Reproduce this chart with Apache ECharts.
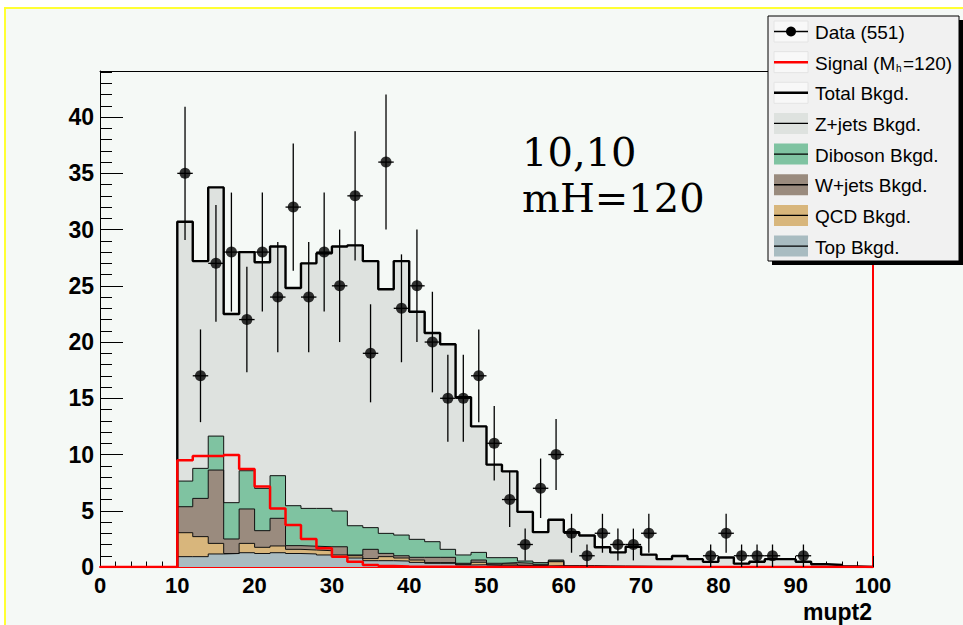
<!DOCTYPE html>
<html>
<head>
<meta charset="utf-8">
<title>mupt2</title>
<script src="https://cdn.jsdelivr.net/npm/echarts@6/dist/echarts.min.js"></script>
<style>
    html, body { margin: 0; padding: 0; background: #fff; }
    #chart { width: 963px; height: 625px; }
</style>
</head>
<body>
<div id="chart"></div>
<script>
    // histogram bins: width 2, from 10 to 100 (45 bins)
    var binLow = 10;
    var binWidth = 2;

    // observed events per bin (551 in total)
    var dataCounts = [35, 17, 27, 28, 22, 28, 24, 32, 24, 28, 25, 33, 19, 36, 23, 25, 20, 15, 15, 17,
        11, 6, 2, 7, 10, 3, 1, 3, 2, 2, 3, 0, 0, 0, 1, 3, 1, 1, 1, 0, 1, 0, 0, 0, 0];

    // signal, M_h = 120 (drawn unstacked)
    var signal = [9.50, 9.87, 9.87, 9.96, 8.72, 7.16, 5.21, 3.73, 2.49, 1.66, 0.92, 0.47, 0.18, 0.10, 0.05,
        0.03, 0.02, 0.02, 0.01, 0.01, 0.01, 0.01, 0, 0, 0, 0, 0, 0, 0, 0, 0, 0, 0, 0, 0, 0, 0, 0, 0, 0, 0, 0, 0, 0, 0];

    // backgrounds, bottom of the stack first
    var topBkg = [0.92, 0.92, 1.16, 1.20, 1.27, 1.20, 1.27, 1.20, 1.16, 1.07, 0.92, 0.80, 0.56, 0.56, 0.53,
        0.41, 0.33, 0.33, 0.18, 0.20, 0.15, 0.15, 0.12, 0.10, 0.12, 0.05, 0.04, 0.03, 0.03, 0.03,
        0.02, 0.02, 0.02, 0.02, 0.01, 0.01, 0.01, 0.01, 0.01, 0.01, 0.01, 0, 0, 0, 0];
    var qcd = [2.13, 1.78, 0.94, 0, 0.83, 0.55, 0.60, 0.37, 0.35, 0.38, 0.15, 0.20, 0.19, 0.36, 0.27,
        0.21, 0.06, 0.06, 0.06, 0.22, 0.03, 0.12, 0.03, 0.02, 0.35, 0.01, 0.01, 0.01, 0.01, 0,
        0.01, 0.01, 0, 0, 0, 0, 0, 0, 0, 0, 0, 0, 0, 0, 0];
    var wjets = [2.31, 3.40, 6.52, 1.29, 3.06, 1.48, 2.46, 0.33, 0.34, 0.35, 0.73, 0.07, 0.82, 0.29, 0.20,
        0.24, 0.47, 0.47, 0.09, 0.20, 0.15, 0.12, 0.18, 0.12, 0.06, 0.02, 0.02, 0.02, 0.01, 0.02,
        0.01, 0.01, 0.01, 0.01, 0.01, 0, 0.01, 0.01, 0.01, 0, 0, 0.01, 0.01, 0, 0];
    var diboson = [2.28, 2.67, 3.02, 3.23, 3.40, 3.76, 3.79, 3.55, 3.36, 3.41, 3.18, 2.60, 1.93, 1.78, 1.84,
        1.60, 1.39, 0.71, 0.74, 0.68, 0.50, 0.44, 0.20, 0.15, 0.09, 0.04, 0.05, 0.04, 0.04, 0.03,
        0.03, 0.02, 0.02, 0.02, 0.01, 0.02, 0.01, 0.01, 0.01, 0.01, 0.01, 0.01, 0, 0.01, 0];
    var zjets = [23.06, 18.43, 22.11, 16.78, 19.44, 20.11, 20.38, 19.35, 21.79, 22.69, 23.52, 24.93, 23.70, 21.71, 24.36,
        20.24, 18.55, 18.23, 14.03, 11.20, 8.27, 7.67, 4.37, 2.71, 3.58, 2.98, 2.68, 1.65, 1.21, 1.72,
        1.03, 0.64, 0.93, 0.65, 0.43, 0.82, 0.27, 0.44, 0.67, 0.68, 0.45, 0.22, 0.17, 0.04, 0];

    var legendNames = ['Data (551)', 'Signal (M', 'Total Bkgd.', 'Z+jets Bkgd.', 'Diboson Bkgd.',
        'W+jets Bkgd.', 'QCD Bkgd.', 'Top Bkgd.'];

    var colors = {
        zjets: '#dee2df',
        diboson: '#7fc3a1',
        wjets: '#9a8b7e',
        qcd: '#d8b67c',
        top: '#a9bcc1'
    };

    var yMax = 44.1;
    var labelFont = 'Liberation Sans, Arial, sans-serif';

    function addArr(a, b) {
        return a.map(function (v, i) { return v + b[i]; });
    }

    // step outline of a histogram: starts on the axis at the first edge, closes at x=100
    function stepData(vals, startX) {
        var pts = [[startX, 0]];
        vals.forEach(function (v, i) {
            pts.push([binLow + binWidth * i, v]);
        });
        pts.push([binLow + binWidth * vals.length, vals[vals.length - 1]]);
        pts.push([binLow + binWidth * vals.length, 0]);
        return pts;
    }

    var cumTop = topBkg.slice();
    var cumQcd = addArr(cumTop, qcd);
    var cumW = addArr(cumQcd, wjets);
    var cumDib = addArr(cumW, diboson);
    var cumTotal = addArr(cumDib, zjets);

    function layer(name, vals, color) {
        return {
            name: name,
            type: 'line',
            step: 'end',
            data: stepData(vals, binLow),
            showSymbol: false,
            silent: true,
            lineStyle: { color: '#111', width: 1 },
            areaStyle: { color: color, opacity: 1 },
            z: 2
        };
    }

    var pointData = [];
    dataCounts.forEach(function (n, i) {
        if (n > 0) {
            pointData.push([binLow + binWidth * i + binWidth / 2, n, Math.sqrt(n)]);
        }
    });

    var chart = echarts.init(document.getElementById('chart'), null, { renderer: 'svg' });

    // legend rows drawn by hand (ROOT style boxes)
    var lgX = 768, lgY = 16, lgW = 191, lgH = 245;
    var rowY0 = 31.5, rowStep = 30.65;
    var symX = 774, symW = 34, symH = 21;
    var legendEls = [
        { type: 'rect', shape: { x: lgX + 4, y: lgY + 4, width: lgW, height: lgH }, style: { fill: '#000' }, z: 100 },
        { type: 'rect', shape: { x: lgX, y: lgY, width: lgW, height: lgH }, style: { fill: '#f1f1f1', stroke: '#000', lineWidth: 1 }, z: 101 }
    ];
    var legendKinds = ['data', 'signal', 'total', colors.zjets, colors.diboson, colors.wjets, colors.qcd, colors.top];
    legendKinds.forEach(function (kind, i) {
        var cy = rowY0 + rowStep * i;
        if (kind === 'data' || kind === 'signal' || kind === 'total') {
            legendEls.push({ type: 'rect', shape: { x: symX, y: cy - symH / 2, width: symW, height: symH },
                style: { fill: '#f8f8f8', stroke: '#e4e4e4', lineWidth: 1 }, z: 102 });
        } else {
            legendEls.push({ type: 'rect', shape: { x: symX, y: cy - symH / 2, width: symW, height: symH },
                style: { fill: kind }, z: 102 });
        }
        var lineColor = kind === 'signal' ? '#ff0000' : '#000';
        var lineW = (kind === 'signal' || kind === 'total') ? 2.5 : 1.3;
        legendEls.push({ type: 'line', shape: { x1: symX, y1: cy, x2: symX + symW, y2: cy },
            style: { stroke: lineColor, lineWidth: lineW }, z: 103 });
        if (kind === 'data') {
            legendEls.push({ type: 'circle', shape: { cx: symX + symW / 2, cy: cy, r: 5 }, style: { fill: '#000' }, z: 104 });
        }
        legendEls.push({ type: 'text', x: 815, y: cy + 1,
            style: { text: legendNames[i], font: '19px ' + labelFont, fill: '#000', verticalAlign: 'middle' }, z: 104 });
    });
    // subscript h of M_h and the rest of the signal label
    legendEls.push({ type: 'text', x: 896, y: rowY0 + rowStep + 6,
        style: { text: 'h', font: '10px ' + labelFont, fill: '#000', verticalAlign: 'middle' }, z: 104 });
    legendEls.push({ type: 'text', x: 903, y: rowY0 + rowStep + 1,
        style: { text: '=120)', font: '19px ' + labelFont, fill: '#000', verticalAlign: 'middle' }, z: 104 });

    var option = {
        animation: false,
        backgroundColor: '#ffffff',
        grid: { left: 100, right: 90, top: 71, bottom: 58, outerBoundsMode: 'none' },
        xAxis: [
            {
                type: 'value', min: 0, max: 100, interval: 10, position: 'bottom',
                axisLine: { onZero: false, lineStyle: { color: '#ff0000', width: 2 } },
                axisTick: { inside: true, length: 11, lineStyle: { color: '#000', width: 1 } },
                axisLabel: { margin: 7, fontSize: 22, fontWeight: 'bold', color: '#000', fontFamily: labelFont },
                splitLine: { show: false }
            },
            {
                type: 'value', min: 0, max: 100, interval: 2, position: 'bottom',
                axisLine: { show: false, onZero: false },
                axisTick: { inside: true, length: 5.5, lineStyle: { color: '#000', width: 1 } },
                axisLabel: { show: false },
                splitLine: { show: false }
            },
            {
                type: 'value', min: 0, max: 100, position: 'top',
                axisLine: { onZero: false, lineStyle: { color: '#000', width: 1 } },
                axisTick: { show: false }, axisLabel: { show: false }, splitLine: { show: false }
            }
        ],
        yAxis: [
            {
                type: 'value', min: 0, max: yMax, interval: 5, position: 'left',
                axisLine: { show: true, onZero: false, lineStyle: { color: '#000', width: 1 } },
                axisTick: { show: true, inside: true, length: 23, lineStyle: { color: '#000', width: 1 } },
                axisLabel: { margin: 6, fontSize: 23, fontWeight: 'bold', color: '#000', fontFamily: labelFont,
                    showMaxLabel: false },
                splitLine: { show: false }
            },
            {
                type: 'value', min: 0, max: yMax, interval: 1, position: 'left',
                axisLine: { show: false, onZero: false },
                axisTick: { show: true, inside: true, length: 12, lineStyle: { color: '#000', width: 1 } },
                axisLabel: { show: false },
                splitLine: { show: false }
            },
            {
                type: 'value', min: 0, max: yMax, position: 'right',
                axisLine: { show: true, onZero: false, lineStyle: { color: '#ff0000', width: 2 } },
                axisTick: { show: false }, axisLabel: { show: false }, splitLine: { show: false }
            }
        ],
        graphic: [
            { type: 'rect', shape: { x: 5, y: 8, width: 1200, height: 900 },
                style: { fill: '#f5f9f6', stroke: '#ffff33', lineWidth: 2 }, z: -100 },
            // x axis title
            { type: 'text', x: 872, y: 612,
                style: { text: 'mupt2', font: 'bold 23px ' + labelFont, fill: '#000', align: 'right', verticalAlign: 'middle' }, z: 50 },
            { type: 'text', x: 522, y: 152,
                style: { text: '10,10', font: '40px "DejaVu Serif", serif', fill: '#000', verticalAlign: 'middle' }, z: 50 },
            { type: 'text', x: 522, y: 198,
                style: { text: 'mH=120', font: '40px "DejaVu Serif", serif', fill: '#000', verticalAlign: 'middle' }, z: 50 }
        ].concat(legendEls),
        series: [
            layer('Z+jets Bkgd.', cumTotal, colors.zjets),
            layer('Diboson Bkgd.', cumDib, colors.diboson),
            layer('W+jets Bkgd.', cumW, colors.wjets),
            layer('QCD Bkgd.', cumQcd, colors.qcd),
            layer('Top Bkgd.', cumTop, colors.top),
            {
                name: 'Total Bkgd.', type: 'line', step: 'end', data: stepData(cumTotal, binLow),
                showSymbol: false, silent: true, lineStyle: { color: '#000', width: 2.4 }, z: 3
            },
            {
                name: 'Signal', type: 'line', step: 'end', data: stepData(signal, 0),
                showSymbol: false, silent: true, lineStyle: { color: '#ff0000', width: 2.5 }, z: 4
            },
            {
                name: 'Data errors', type: 'custom', data: pointData, silent: true, z: 5,
                encode: { x: 0, y: 1 },
                renderItem: function (params, api) {
                    var x = api.value(0), y = api.value(1), e = api.value(2);
                    var lo = api.coord([x, Math.max(0, y - e)]);
                    var hi = api.coord([x, Math.min(yMax, y + e)]);
                    var l = api.coord([x - binWidth / 2, y]);
                    var r = api.coord([x + binWidth / 2, y]);
                    return {
                        type: 'group',
                        children: [
                            { type: 'line', shape: { x1: lo[0], y1: lo[1], x2: hi[0], y2: hi[1] },
                                style: { stroke: '#000', lineWidth: 1.3 } },
                            { type: 'line', shape: { x1: l[0], y1: l[1], x2: r[0], y2: r[1] },
                                style: { stroke: '#000', lineWidth: 1.3 } }
                        ]
                    };
                }
            },
            {
                name: 'Data (551)', type: 'scatter', data: pointData.map(function (p) { return [p[0], p[1]]; }),
                symbol: 'circle', symbolSize: 11, itemStyle: { color: '#000' }, silent: true, z: 6
            }
        ]
    };

    chart.setOption(option);
</script>
</body>
</html>
